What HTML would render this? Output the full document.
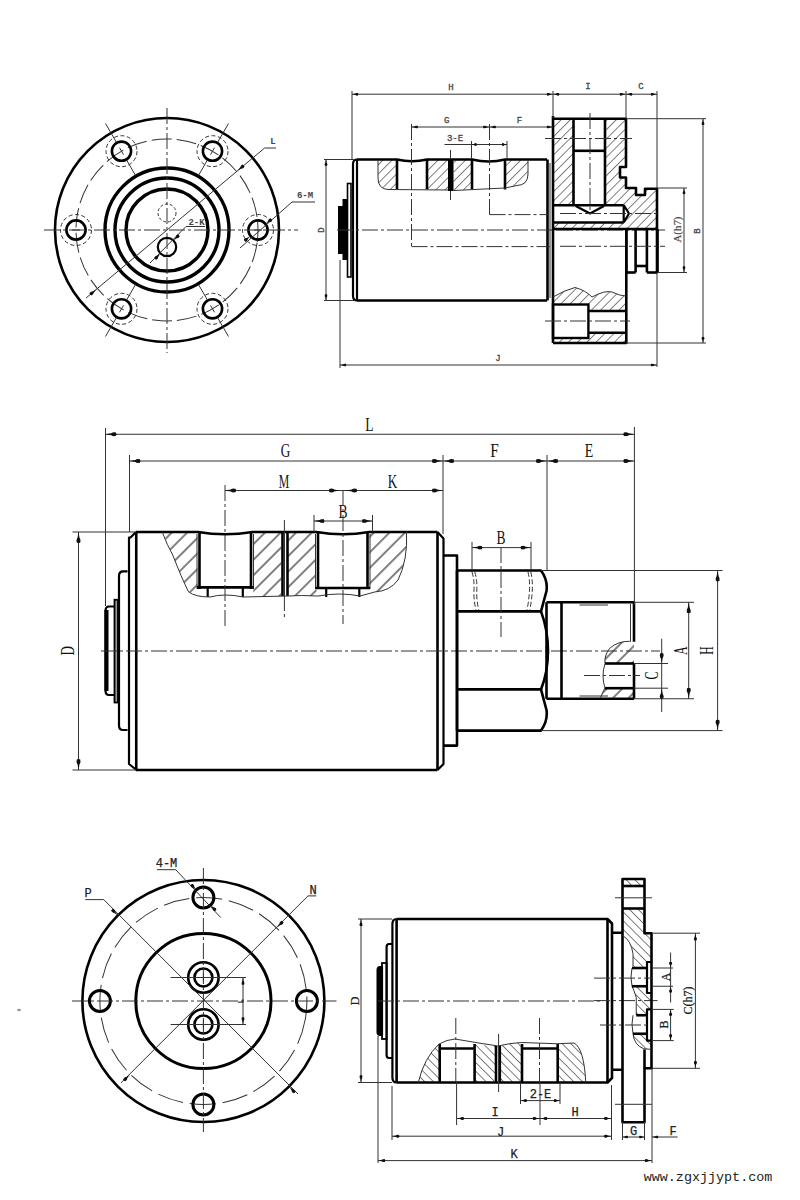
<!DOCTYPE html>
<html><head><meta charset="utf-8"><style>
html,body{margin:0;padding:0;background:#fff;width:800px;height:1200px;overflow:hidden}
svg{display:block}
.k{stroke:#000;stroke-width:2.6;fill:none;stroke-linejoin:round}
.k2{stroke:#000;stroke-width:2.2;fill:none;stroke-linejoin:round}
.k3{stroke:#000;stroke-width:3.4;fill:none}
.t{stroke:#333;stroke-width:1;fill:none}
.c{stroke:#333;stroke-width:1;fill:none;stroke-dasharray:16 3 3 3}
.h{stroke:#333;stroke-width:1;fill:none;stroke-dasharray:4 3}
.hf{fill:url(#hf);stroke:none}
.hb{fill:url(#hb);stroke:none}
.hm{fill:url(#hm);stroke:none}
text{font-family:"Liberation Mono",monospace;fill:#222}
.ts{font-size:9px;font-family:"Liberation Serif",serif}
.tx1{font-size:9px;font-weight:bold;font-family:"Liberation Mono",monospace;fill:#444}
.tx{font-size:9px;font-family:"Liberation Mono",monospace;fill:#444;stroke:#444;stroke-width:0.3}
.tm{font-size:18px;font-family:"Liberation Serif",serif;fill:#111}
.tb{font-size:12px;font-family:"Liberation Mono",monospace;fill:#222;stroke:#222;stroke-width:0.25}
.web{font-size:13.4px;font-family:"Liberation Mono",monospace;fill:#222}
</style></head><body>
<svg width="800" height="1200" viewBox="0 0 800 1200">
<defs>
<pattern id="hf" width="6.5" height="6" patternUnits="userSpaceOnUse" patternTransform="rotate(45)"><line x1="0" y1="0" x2="0" y2="6" stroke="#222" stroke-width="1.15"/></pattern>
<pattern id="hm" width="11" height="11" patternUnits="userSpaceOnUse" patternTransform="rotate(45)"><line x1="3" y1="0" x2="3" y2="11" stroke="#222" stroke-width="1.15"/></pattern>
<pattern id="hb" width="6.2" height="6" patternUnits="userSpaceOnUse" patternTransform="rotate(-45)"><line x1="0" y1="0" x2="0" y2="6" stroke="#222" stroke-width="1.15"/></pattern>
</defs>
<rect width="800" height="1200" fill="#fff"/>
<circle cx="167" cy="230" r="112" class="k" />
<circle cx="167" cy="230" r="91" class="t" stroke-dasharray="20 5" transform="rotate(8 167 230)"/>
<circle cx="167" cy="230" r="62" class="k3" />
<circle cx="167" cy="230" r="52" class="k3" />
<circle cx="167" cy="230" r="41" class="k3" />
<circle cx="258" cy="230" r="9.6" class="k" />
<circle cx="258" cy="230" r="15.5" class="t" stroke-dasharray="4 2.5"/>
<line x1="254" y1="230" x2="262" y2="230" class="t" />
<circle cx="212.5" cy="151.19" r="9.6" class="k" />
<circle cx="212.5" cy="151.19" r="15.5" class="t" stroke-dasharray="4 2.5"/>
<line x1="198.5" y1="175.44" x2="207.5" y2="159.85" class="t" />
<line x1="217.5" y1="142.53" x2="228.5" y2="123.48" class="t" />
<line x1="210.5" y1="154.66" x2="214.5" y2="147.73" class="t" />
<circle cx="121.5" cy="151.19" r="9.6" class="k" />
<circle cx="121.5" cy="151.19" r="15.5" class="t" stroke-dasharray="4 2.5"/>
<line x1="135.5" y1="175.44" x2="126.5" y2="159.85" class="t" />
<line x1="116.5" y1="142.53" x2="105.5" y2="123.48" class="t" />
<line x1="123.5" y1="154.66" x2="119.5" y2="147.73" class="t" />
<circle cx="76" cy="230" r="9.6" class="k" />
<circle cx="76" cy="230" r="15.5" class="t" stroke-dasharray="4 2.5"/>
<line x1="80" y1="230" x2="72" y2="230" class="t" />
<circle cx="121.5" cy="308.81" r="9.6" class="k" />
<circle cx="121.5" cy="308.81" r="15.5" class="t" stroke-dasharray="4 2.5"/>
<line x1="135.5" y1="284.56" x2="126.5" y2="300.15" class="t" />
<line x1="116.5" y1="317.47" x2="105.5" y2="336.52" class="t" />
<line x1="123.5" y1="305.34" x2="119.5" y2="312.27" class="t" />
<circle cx="212.5" cy="308.81" r="9.6" class="k" />
<circle cx="212.5" cy="308.81" r="15.5" class="t" stroke-dasharray="4 2.5"/>
<line x1="198.5" y1="284.56" x2="207.5" y2="300.15" class="t" />
<line x1="217.5" y1="317.47" x2="228.5" y2="336.52" class="t" />
<line x1="210.5" y1="305.34" x2="214.5" y2="312.27" class="t" />
<line x1="44" y1="230" x2="298" y2="230" class="c" />
<line x1="167" y1="108" x2="167" y2="353" class="c" />
<circle cx="167" cy="247" r="9.2" class="k2" />
<circle cx="167" cy="213" r="9" class="t" stroke-dasharray="3 2"/>
<line x1="86" y1="298.04" x2="264.6" y2="148.02" class="t" />
<line x1="264.6" y1="148.02" x2="276" y2="148.02" class="t" />
<polygon points="237.44,170.83 242.61,164.53 244.54,166.83" fill="#111"/>
<ellipse cx="242.35" cy="166.71" rx="2" ry="1.65" fill="#111" transform="rotate(139.97 242.35 166.71)"/>
<polygon points="96.56,289.17 91.39,295.47 89.46,293.17" fill="#111"/>
<ellipse cx="91.65" cy="293.29" rx="2" ry="1.65" fill="#111" transform="rotate(-40.03 91.65 293.29)"/>
<text x="273" y="143.5" class="tx1" text-anchor="middle" >L</text>
<line x1="240" y1="248" x2="292" y2="202" class="t" />
<line x1="292" y1="202" x2="315" y2="202" class="t" />
<polygon points="250.2,236.3 245.7,241.87 243.81,239.53" fill="#111"/>
<ellipse cx="245.84" cy="239.82" rx="1.75" ry="1.65" fill="#111" transform="rotate(-38.93 245.84 239.82)"/>
<polygon points="265.8,223.7 270.3,218.13 272.19,220.47" fill="#111"/>
<ellipse cx="270.16" cy="220.18" rx="1.75" ry="1.65" fill="#111" transform="rotate(141.07 270.16 220.18)"/>
<text x="305" y="198" class="tx1" text-anchor="middle" >6-M</text>
<line x1="150" y1="263" x2="186" y2="226.5" class="t" />
<line x1="186" y1="226.5" x2="205" y2="226.5" class="t" />
<polygon points="160.3,253.7 156.41,259.71 154.29,257.59" fill="#111"/>
<ellipse cx="156.34" cy="257.66" rx="1.75" ry="1.65" fill="#111" transform="rotate(-45 156.34 257.66)"/>
<polygon points="173.7,240.3 177.59,234.29 179.71,236.41" fill="#111"/>
<ellipse cx="177.66" cy="236.34" rx="1.75" ry="1.65" fill="#111" transform="rotate(135 177.66 236.34)"/>
<text x="196.5" y="224.5" class="tx1" text-anchor="middle" >2-K</text>
<path d="M378,160 L397,160 L397,189.5 L388,189.5 Q378,189 378,178 Z" class="hf" />
<path d="M427,160 L448.5,160 L448.5,190 L427,189.5 Z" class="hf" />
<path d="M453.5,160 L472,160 L472,189.5 L453.5,190.5 Z" class="hf" />
<path d="M505,160 L528,160 L528,174 Q528,185 517,185.5 L505,187.5 Z" class="hf" />
<path d="M553,118.7 L573.5,118.7 L573.5,205.2 L553,205.2 Z" class="hf" />
<path d="M605,118.7 L626,118.7 L626,167 L620,167 L620,177.5 L626,177.5 L626,188 L636,188 L636,195 L645,195 L645,188.7 L657,188.7 L657,229 L553,229 L553,222.5 L623.7,222.5 L629,213.5 L623.7,205.2 L605,205.2 Z" class="hf" />
<path d="M553,297 Q565,290 575,287.5 Q585,290 592,297 Q605,290 612,292 Q620,296 626,296 L626,311 L588.4,311 L588.4,304.5 L553,304.5 Z" class="hf" />
<path d="M588.4,332.7 L626,332.7 L626,343 L553,343 L553,338 L588.4,338 Z" class="hf" />
<path d="M357,159.5 L397,159.5 Q412,163 427,159.5 L472,159.5 Q489,163.5 505,159.5 L547,159.5" class="k" />
<line x1="357" y1="300.5" x2="547" y2="300.5" class="k" />
<path d="M357,159.5 Q353,159.5 353,164 L353,296 Q353,300.5 357,300.5" class="k2" />
<line x1="357" y1="160" x2="357" y2="300" class="k2" />
<line x1="547.5" y1="159.5" x2="547.5" y2="300.5" class="k" />
<line x1="550" y1="163" x2="550" y2="298" class="t" />
<rect x="347.5" y="183.5" width="3.5" height="93.5" fill="none" stroke="#000" stroke-width="1.6"/>
<rect x="342.5" y="199" width="5" height="61" fill="#000"/>
<rect x="338" y="206" width="5" height="48" fill="#000"/>
<line x1="397" y1="159.5" x2="397" y2="189.5" class="k" />
<line x1="427" y1="159.5" x2="427" y2="189.5" class="k" />
<line x1="472" y1="159.5" x2="472" y2="189.5" class="k" />
<line x1="505" y1="159.5" x2="505" y2="189.5" class="k" />
<path d="M378,160 L378,178 Q378,189 388,189.5 L448.5,190" class="t" />
<path d="M453.5,190.5 L505,188 L517,185.5 Q528,185 528,174 L528,160" class="t" />
<line x1="337" y1="230" x2="557" y2="230" class="c" />
<line x1="557" y1="230" x2="665" y2="230" class="c" />
<line x1="411.5" y1="124" x2="411.5" y2="246.6" class="c" />
<line x1="411.5" y1="246.6" x2="550" y2="246.6" class="c" />
<line x1="489.5" y1="124" x2="489.5" y2="214.6" class="c" />
<line x1="489.5" y1="214.6" x2="549" y2="214.6" class="c" />
<line x1="450.5" y1="150" x2="450.5" y2="200" class="t" />
<rect x="448" y="159" width="5.5" height="32" fill="#000"/>
<path d="M553,118.7 L626,118.7 L626,167 L620,167 L620,177.5 L626,177.5 L626,188 L636,188 L636,195 L645,195 L645,188.7 L657,188.7 L657,272.5" class="k" />
<line x1="553" y1="116" x2="553" y2="343" class="k" />
<path d="M573.5,118.7 L573.5,205.2 M605,118.7 L605,205.2" class="k" />
<line x1="573.5" y1="150.8" x2="605" y2="150.8" class="k" />
<path d="M575.7,206 L590,213.5 L604,206" class="k2" />
<line x1="553" y1="205.2" x2="623.7" y2="205.2" class="k" />
<line x1="553" y1="222.5" x2="623.7" y2="222.5" class="k" />
<path d="M623.7,205.2 L623.7,222.5 M623.7,205.2 L629,213.5 L623.7,222.5" class="k2" />
<line x1="545" y1="138.5" x2="632" y2="138.5" class="c" />
<line x1="560" y1="213.5" x2="657" y2="213.5" class="c" />
<line x1="590" y1="113" x2="590" y2="213" class="c" />
<line x1="553" y1="229" x2="657" y2="229" class="k" />
<line x1="626.3" y1="229" x2="626.3" y2="272.5" class="k" />
<line x1="635.6" y1="229" x2="635.6" y2="272.5" class="k" />
<line x1="646.9" y1="229" x2="646.9" y2="272.5" class="k" />
<line x1="657.5" y1="229" x2="657.5" y2="272.5" class="k" />
<line x1="626.3" y1="272.5" x2="635.6" y2="272.5" class="k" />
<line x1="646.9" y1="272.5" x2="657.5" y2="272.5" class="k" />
<line x1="635.6" y1="266" x2="646.9" y2="266" class="k" />
<line x1="560" y1="246.3" x2="665" y2="246.3" class="c" />
<path d="M553,343 L626.3,343 L626.3,229" class="k" />
<rect x="553" y="304.5" width="35.4" height="33.5" fill="none" stroke="#000" stroke-width="2.4"/>
<line x1="588.4" y1="311" x2="626.3" y2="311" class="k" />
<line x1="588.4" y1="332.7" x2="626.3" y2="332.7" class="k" />
<line x1="545" y1="321" x2="630" y2="321" class="c" />
<path d="M553,297 Q565,290 575,287.5 Q585,290 592,297 Q605,290 612,292 Q620,296 626,296" class="t" />
<line x1="352" y1="91" x2="352" y2="159" class="t" />
<line x1="553" y1="91" x2="553" y2="118" class="t" />
<line x1="352" y1="94.2" x2="553" y2="94.2" class="t" />
<polygon points="352,94.2 358,93 358,95.4" fill="#111"/>
<ellipse cx="356.8" cy="94.2" rx="1.5" ry="1.32" fill="#111" transform="rotate(180 356.8 94.2)"/>
<polygon points="553,94.2 547,95.4 547,93" fill="#111"/>
<ellipse cx="548.2" cy="94.2" rx="1.5" ry="1.32" fill="#111" transform="rotate(0 548.2 94.2)"/>
<text x="451" y="90" class="tx" text-anchor="middle" >H</text>
<line x1="411.5" y1="127" x2="553" y2="127" class="t" />
<polygon points="411.5,127 417.5,125.8 417.5,128.2" fill="#111"/>
<ellipse cx="416.3" cy="127" rx="1.5" ry="1.32" fill="#111" transform="rotate(180 416.3 127)"/>
<polygon points="489.5,127 483.5,128.2 483.5,125.8" fill="#111"/>
<ellipse cx="484.7" cy="127" rx="1.5" ry="1.32" fill="#111" transform="rotate(0 484.7 127)"/>
<polygon points="489.5,127 495.5,125.8 495.5,128.2" fill="#111"/>
<ellipse cx="494.3" cy="127" rx="1.5" ry="1.32" fill="#111" transform="rotate(180 494.3 127)"/>
<polygon points="553,127 547,128.2 547,125.8" fill="#111"/>
<ellipse cx="548.2" cy="127" rx="1.5" ry="1.32" fill="#111" transform="rotate(0 548.2 127)"/>
<text x="446.6" y="123" class="tx" text-anchor="middle" >G</text>
<text x="519.5" y="123" class="tx" text-anchor="middle" >F</text>
<line x1="444.5" y1="144.5" x2="507" y2="144.5" class="t" />
<line x1="471.5" y1="141" x2="471.5" y2="159" class="t" />
<line x1="507" y1="141" x2="507" y2="159" class="t" />
<polygon points="471.5,144.5 476.5,143.3 476.5,145.7" fill="#111"/>
<ellipse cx="475.5" cy="144.5" rx="1.25" ry="1.32" fill="#111" transform="rotate(180 475.5 144.5)"/>
<polygon points="507,144.5 502,145.7 502,143.3" fill="#111"/>
<ellipse cx="503" cy="144.5" rx="1.25" ry="1.32" fill="#111" transform="rotate(0 503 144.5)"/>
<text x="455" y="140.5" class="tx" text-anchor="middle" >3-E</text>
<line x1="553" y1="94.2" x2="657" y2="94.2" class="t" />
<polygon points="553,94.2 559,93 559,95.4" fill="#111"/>
<ellipse cx="557.8" cy="94.2" rx="1.5" ry="1.32" fill="#111" transform="rotate(180 557.8 94.2)"/>
<polygon points="626,94.2 620,95.4 620,93" fill="#111"/>
<ellipse cx="621.2" cy="94.2" rx="1.5" ry="1.32" fill="#111" transform="rotate(0 621.2 94.2)"/>
<polygon points="626,94.2 632,93 632,95.4" fill="#111"/>
<ellipse cx="630.8" cy="94.2" rx="1.5" ry="1.32" fill="#111" transform="rotate(180 630.8 94.2)"/>
<polygon points="657,94.2 651,95.4 651,93" fill="#111"/>
<ellipse cx="652.2" cy="94.2" rx="1.5" ry="1.32" fill="#111" transform="rotate(0 652.2 94.2)"/>
<line x1="626" y1="91" x2="626" y2="118" class="t" />
<line x1="657" y1="91" x2="657" y2="188" class="t" />
<text x="588" y="89" class="tx" text-anchor="middle" >I</text>
<text x="641" y="89" class="tx" text-anchor="middle" >C</text>
<line x1="626" y1="118.7" x2="706" y2="118.7" class="t" />
<line x1="626" y1="343" x2="706" y2="343" class="t" />
<line x1="703" y1="118.7" x2="703" y2="343" class="t" />
<polygon points="703,118.7 704.2,124.7 701.8,124.7" fill="#111"/>
<ellipse cx="703" cy="123.5" rx="1.5" ry="1.32" fill="#111" transform="rotate(-90 703 123.5)"/>
<polygon points="703,343 701.8,337 704.2,337" fill="#111"/>
<ellipse cx="703" cy="338.2" rx="1.5" ry="1.32" fill="#111" transform="rotate(90 703 338.2)"/>
<text x="697" y="231" class="tx" text-anchor="middle" transform="rotate(-90 697 231)" dy="2.5">B</text>
<line x1="657" y1="188" x2="687" y2="188" class="t" />
<line x1="657" y1="272.5" x2="687" y2="272.5" class="t" />
<line x1="684" y1="188" x2="684" y2="272.5" class="t" />
<polygon points="684,188 685.2,194 682.8,194" fill="#111"/>
<ellipse cx="684" cy="192.8" rx="1.5" ry="1.32" fill="#111" transform="rotate(-90 684 192.8)"/>
<polygon points="684,272.5 682.8,266.5 685.2,266.5" fill="#111"/>
<ellipse cx="684" cy="267.7" rx="1.5" ry="1.32" fill="#111" transform="rotate(90 684 267.7)"/>
<text x="678" y="229.5" class="tx" text-anchor="middle" transform="rotate(-90 678 229.5)" dy="3" style="font-family:'Liberation Serif',serif;font-size:10px;stroke-width:0.15" textLength="26" lengthAdjust="spacingAndGlyphs">A(h7)</text>
<line x1="324" y1="159.5" x2="355" y2="159.5" class="t" />
<line x1="324" y1="300.5" x2="355" y2="300.5" class="t" />
<line x1="326" y1="159.5" x2="326" y2="300.5" class="t" />
<polygon points="326,159.5 327.2,165.5 324.8,165.5" fill="#111"/>
<ellipse cx="326" cy="164.3" rx="1.5" ry="1.32" fill="#111" transform="rotate(-90 326 164.3)"/>
<polygon points="326,300.5 324.8,294.5 327.2,294.5" fill="#111"/>
<ellipse cx="326" cy="295.7" rx="1.5" ry="1.32" fill="#111" transform="rotate(90 326 295.7)"/>
<text x="321" y="230" class="tx" text-anchor="middle" transform="rotate(-90 321 230)" dy="2.5">D</text>
<line x1="340" y1="260" x2="340" y2="368" class="t" />
<line x1="657" y1="272.5" x2="657" y2="367" class="t" />
<line x1="340" y1="365" x2="657" y2="365" class="t" />
<polygon points="340,365 346,363.8 346,366.2" fill="#111"/>
<ellipse cx="344.8" cy="365" rx="1.5" ry="1.32" fill="#111" transform="rotate(180 344.8 365)"/>
<polygon points="657,365 651,366.2 651,363.8" fill="#111"/>
<ellipse cx="652.2" cy="365" rx="1.5" ry="1.32" fill="#111" transform="rotate(0 652.2 365)"/>
<text x="498" y="361" class="tx" text-anchor="middle" >J</text>
<path d="M162.25,532 L197.5,532 L197.5,589 L200.75,597 L188.5,591.75 Q181.5,577.75 172.75,555 Z" class="hm" />
<path d="M253.25,532 L281.25,532 L281.25,596 L253.25,597 Z" class="hm" />
<path d="M288.25,532 L316,532 L316,588 L318,596 L288.25,596 Z" class="hm" />
<path d="M369.5,532 L406.5,532 Q408,560 398,580 Q390,591 374.7,592 L369.5,590 Z" class="hm" />
<path d="M136,532 L198,532 Q225,536.5 252.5,532 L316.5,532 Q343,536.5 369,532 L437.5,532" class="k" />
<line x1="136" y1="770" x2="437.5" y2="770" class="k" />
<line x1="136.25" y1="532" x2="136.25" y2="770" class="k" />
<path d="M136,532 L130.5,537.5 L129,537.5 L129,764 L136.5,770" class="k2" />
<line x1="437.5" y1="532" x2="437.5" y2="770" class="k" />
<path d="M437.5,532 L443.5,538.5 L443.5,764 L437.5,770" class="k2" />
<path d="M127.5,571.3 L123,571.3 Q119,571.3 119,576 L119,725.5 Q119,730 123,730 L127.5,730" class="k2" />
<rect x="114.5" y="599.75" width="3.5" height="102.75" fill="#999" stroke="#000" stroke-width="1.8"/>
<path d="M114,606.5 L109,606.5 Q105.5,606.5 105.5,611 L105.5,690.5 Q105.5,695 109,695 L114,695" class="k2" />
<rect x="104.5" y="610" width="4" height="81" fill="#000"/>
<line x1="199.5" y1="532" x2="199.5" y2="589" class="k" />
<line x1="197" y1="534" x2="197" y2="589" class="t" />
<line x1="251" y1="532" x2="251" y2="589" class="k" />
<line x1="253.5" y1="534" x2="253.5" y2="589" class="t" />
<line x1="197" y1="587.4" x2="253.5" y2="587.4" class="k" />
<line x1="207.7" y1="587.4" x2="207.7" y2="597" class="k2" />
<line x1="242.8" y1="587.4" x2="242.8" y2="597" class="k2" />
<line x1="318" y1="532" x2="318" y2="589" class="k" />
<line x1="315.5" y1="534" x2="315.5" y2="589" class="t" />
<line x1="367.5" y1="532" x2="367.5" y2="589" class="k" />
<line x1="370" y1="534" x2="370" y2="589" class="t" />
<line x1="315.5" y1="588" x2="370" y2="588" class="k" />
<line x1="326.2" y1="588" x2="326.2" y2="597" class="k2" />
<line x1="359.3" y1="588" x2="359.3" y2="597" class="k2" />
<line x1="282.5" y1="532" x2="282.5" y2="596" class="k" />
<line x1="287.5" y1="532" x2="287.5" y2="596" class="k" />
<line x1="284.5" y1="534" x2="284.5" y2="596" class="t" stroke="#888"/>
<path d="M162.25,532 Q167,545 172.75,555 Q181.5,577.75 188.5,591.75 Q195,597 210,597 Q225,593 243,597 L288,596 Q300,595 318,596 Q340,592 360,596 L374.7,592 Q390,591 398,580 Q408,560 406.5,532" class="t" />
<line x1="101" y1="651" x2="660" y2="651" class="c" />
<line x1="225" y1="485" x2="225" y2="628" class="c" />
<line x1="284.4" y1="520" x2="284.4" y2="620" class="c" />
<line x1="343" y1="490" x2="343" y2="624" class="c" />
<path d="M443.5,555.5 L457,555.5 L457,745.6 L443.5,745.6" class="k" />
<path d="M457,570.5 L541,570.5 Q548,580 546.5,591 L541,611.4 L457,611.4" class="k" />
<path d="M457,730.6 L541,730.6 Q548,721 546.5,710 L541,689.4 L457,689.4" class="k" />
<path d="M541,611.4 Q548,630 548,651 Q548,672 541,689.4" class="k" />
<line x1="457" y1="570.5" x2="457" y2="730.6" class="k" />
<path d="M472,572 Q474.5,580 474,590 Q473.5,600 476,610" class="t" stroke-dasharray="5 2.5"/>
<path d="M528,572 Q530,580 529.5,590 Q529,600 527,610" class="t" stroke-dasharray="5 2.5"/>
<path d="M474.8,572 Q477.3,580 476.8,590 Q476.3,600 478.8,610" class="t" stroke-dasharray="5 2.5"/>
<path d="M530.8,572 Q532.8,580 532.3,590 Q531.8,600 529.8,610" class="t" stroke-dasharray="5 2.5"/>
<line x1="501" y1="547" x2="501" y2="637" class="c" />
<line x1="546.5" y1="602.3" x2="634" y2="602.3" class="k" />
<line x1="546.5" y1="698.75" x2="634" y2="698.75" class="k" />
<line x1="546.5" y1="602.3" x2="546.5" y2="698.75" class="k" />
<line x1="561.5" y1="602.3" x2="561.5" y2="698.75" class="k" />
<line x1="634" y1="602.3" x2="634" y2="641.75" class="k" />
<line x1="630.5" y1="604" x2="630.5" y2="641.75" class="t" />
<line x1="579.5" y1="605" x2="608" y2="605" class="t" stroke="#888" stroke-width="2"/>
<line x1="579.5" y1="696" x2="608" y2="696" class="t" stroke="#888" stroke-width="2"/>
<path d="M629.75,641.3 Q618,641 609.5,648.5 Q604,656 605,663.5" class="t" />
<path d="M605,688 Q602,693 600.5,698" class="t" />
<path d="M629.75,641.3 L634,641.3 L634,663.5 L605,663.5 Q604,656 609.5,648.5 Q618,641 629.75,641.3 Z" class="hm" />
<path d="M605,688.2 L634,688.2 L634,698 L600.5,698 Z" class="hm" />
<line x1="605" y1="663.5" x2="634" y2="663.5" class="k" />
<line x1="605" y1="688.2" x2="634" y2="688.2" class="k" />
<line x1="634" y1="663.5" x2="634" y2="698.75" class="k" />
<path d="M605,663.5 Q601,676 605,688.2" class="t" />
<line x1="584" y1="675.5" x2="640" y2="675.5" class="c" />
<line x1="105.5" y1="428" x2="105.5" y2="606" class="t" />
<line x1="634.4" y1="427" x2="634.4" y2="605" class="t" />
<line x1="105.5" y1="434.25" x2="634.4" y2="434.25" class="t" />
<polygon points="105.5,434.25 116,432.45 116,436.05" fill="#111"/>
<ellipse cx="113.9" cy="434.25" rx="2.62" ry="1.98" fill="#111" transform="rotate(180 113.9 434.25)"/>
<polygon points="634.4,434.25 623.9,436.05 623.9,432.45" fill="#111"/>
<ellipse cx="626" cy="434.25" rx="2.62" ry="1.98" fill="#111" transform="rotate(0 626 434.25)"/>
<text x="369.3" y="430.75" class="tm" text-anchor="middle" textLength="8.25" lengthAdjust="spacingAndGlyphs">L</text>
<line x1="129.5" y1="455" x2="129.5" y2="532" class="t" />
<line x1="443" y1="455" x2="443" y2="534" class="t" />
<line x1="547" y1="455" x2="547" y2="571" class="t" />
<line x1="129.5" y1="461" x2="634.4" y2="461" class="t" />
<polygon points="129.5,461 140,459.2 140,462.8" fill="#111"/>
<ellipse cx="137.9" cy="461" rx="2.62" ry="1.98" fill="#111" transform="rotate(180 137.9 461)"/>
<polygon points="443,461 432.5,462.8 432.5,459.2" fill="#111"/>
<ellipse cx="434.6" cy="461" rx="2.62" ry="1.98" fill="#111" transform="rotate(0 434.6 461)"/>
<polygon points="443,461 453.5,459.2 453.5,462.8" fill="#111"/>
<ellipse cx="451.4" cy="461" rx="2.62" ry="1.98" fill="#111" transform="rotate(180 451.4 461)"/>
<polygon points="547,461 536.5,462.8 536.5,459.2" fill="#111"/>
<ellipse cx="538.6" cy="461" rx="2.62" ry="1.98" fill="#111" transform="rotate(0 538.6 461)"/>
<polygon points="547,461 557.5,459.2 557.5,462.8" fill="#111"/>
<ellipse cx="555.4" cy="461" rx="2.62" ry="1.98" fill="#111" transform="rotate(180 555.4 461)"/>
<polygon points="634.4,461 623.9,462.8 623.9,459.2" fill="#111"/>
<ellipse cx="626" cy="461" rx="2.62" ry="1.98" fill="#111" transform="rotate(0 626 461)"/>
<text x="285.5" y="457" class="tm" text-anchor="middle" textLength="9.5" lengthAdjust="spacingAndGlyphs">G</text>
<text x="494.5" y="457" class="tm" text-anchor="middle" textLength="8.5" lengthAdjust="spacingAndGlyphs">F</text>
<text x="589" y="457" class="tm" text-anchor="middle" textLength="8.5" lengthAdjust="spacingAndGlyphs">E</text>
<line x1="225" y1="490.5" x2="443" y2="490.5" class="t" />
<polygon points="225,490.5 235.5,488.7 235.5,492.3" fill="#111"/>
<ellipse cx="233.4" cy="490.5" rx="2.62" ry="1.98" fill="#111" transform="rotate(180 233.4 490.5)"/>
<polygon points="340,490.5 329.5,492.3 329.5,488.7" fill="#111"/>
<ellipse cx="331.6" cy="490.5" rx="2.62" ry="1.98" fill="#111" transform="rotate(0 331.6 490.5)"/>
<polygon points="346,490.5 356.5,488.7 356.5,492.3" fill="#111"/>
<ellipse cx="354.4" cy="490.5" rx="2.62" ry="1.98" fill="#111" transform="rotate(180 354.4 490.5)"/>
<polygon points="443,490.5 432.5,492.3 432.5,488.7" fill="#111"/>
<ellipse cx="434.6" cy="490.5" rx="2.62" ry="1.98" fill="#111" transform="rotate(0 434.6 490.5)"/>
<text x="284" y="487.5" class="tm" text-anchor="middle" textLength="10.5" lengthAdjust="spacingAndGlyphs" style="font-size:19.5px">M</text>
<text x="392.5" y="487.5" class="tm" text-anchor="middle" textLength="9.5" lengthAdjust="spacingAndGlyphs" style="font-size:19.5px">K</text>
<line x1="314" y1="521" x2="372.5" y2="521" class="t" />
<line x1="314" y1="515" x2="314" y2="532" class="t" />
<line x1="372.5" y1="515" x2="372.5" y2="532" class="t" />
<polygon points="314,521 324,519.3 324,522.7" fill="#111"/>
<ellipse cx="322" cy="521" rx="2.5" ry="1.87" fill="#111" transform="rotate(180 322 521)"/>
<polygon points="372.5,521 362.5,522.7 362.5,519.3" fill="#111"/>
<ellipse cx="364.5" cy="521" rx="2.5" ry="1.87" fill="#111" transform="rotate(0 364.5 521)"/>
<text x="343" y="518" class="tm" text-anchor="middle" textLength="9" lengthAdjust="spacingAndGlyphs">B</text>
<line x1="472" y1="547.6" x2="531" y2="547.6" class="t" />
<line x1="472" y1="542" x2="472" y2="570" class="t" />
<line x1="531" y1="542" x2="531" y2="570" class="t" />
<polygon points="472,547.6 482,545.9 482,549.3" fill="#111"/>
<ellipse cx="480" cy="547.6" rx="2.5" ry="1.87" fill="#111" transform="rotate(180 480 547.6)"/>
<polygon points="531,547.6 521,549.3 521,545.9" fill="#111"/>
<ellipse cx="523" cy="547.6" rx="2.5" ry="1.87" fill="#111" transform="rotate(0 523 547.6)"/>
<text x="501" y="544" class="tm" text-anchor="middle" textLength="9" lengthAdjust="spacingAndGlyphs">B</text>
<line x1="72.5" y1="532" x2="136" y2="532" class="t" />
<line x1="72.5" y1="770" x2="136" y2="770" class="t" />
<line x1="78.5" y1="532" x2="78.5" y2="770" class="t" />
<polygon points="78.5,532 80.3,542.5 76.7,542.5" fill="#111"/>
<ellipse cx="78.5" cy="540.4" rx="2.62" ry="1.98" fill="#111" transform="rotate(-90 78.5 540.4)"/>
<polygon points="78.5,770 76.7,759.5 80.3,759.5" fill="#111"/>
<ellipse cx="78.5" cy="761.6" rx="2.62" ry="1.98" fill="#111" transform="rotate(90 78.5 761.6)"/>
<text x="69.4" y="650.75" class="tm" text-anchor="middle" textLength="9.5" lengthAdjust="spacingAndGlyphs" transform="rotate(-90 69.4 650.75)" dy="5">D</text>
<line x1="541" y1="570.5" x2="722.5" y2="570.5" class="t" />
<line x1="541" y1="730.6" x2="722.5" y2="730.6" class="t" />
<line x1="717.6" y1="570.5" x2="717.6" y2="730.6" class="t" />
<polygon points="717.6,570.5 719.4,581 715.8,581" fill="#111"/>
<ellipse cx="717.6" cy="578.9" rx="2.62" ry="1.98" fill="#111" transform="rotate(-90 717.6 578.9)"/>
<polygon points="717.6,730.6 715.8,720.1 719.4,720.1" fill="#111"/>
<ellipse cx="717.6" cy="722.2" rx="2.62" ry="1.98" fill="#111" transform="rotate(90 717.6 722.2)"/>
<text x="707.5" y="650.5" class="tm" text-anchor="middle" textLength="8.4" lengthAdjust="spacingAndGlyphs" transform="rotate(-90 707.5 650.5)" dy="5">H</text>
<line x1="634" y1="602.3" x2="694" y2="602.3" class="t" />
<line x1="634" y1="698.75" x2="694" y2="698.75" class="t" />
<line x1="688.7" y1="602.3" x2="688.7" y2="698.75" class="t" />
<polygon points="688.7,602.3 690.5,612.8 686.9,612.8" fill="#111"/>
<ellipse cx="688.7" cy="610.7" rx="2.62" ry="1.98" fill="#111" transform="rotate(-90 688.7 610.7)"/>
<polygon points="688.7,698.75 686.9,688.25 690.5,688.25" fill="#111"/>
<ellipse cx="688.7" cy="690.35" rx="2.62" ry="1.98" fill="#111" transform="rotate(90 688.7 690.35)"/>
<text x="681.5" y="650.5" class="tm" text-anchor="middle" textLength="8.4" lengthAdjust="spacingAndGlyphs" transform="rotate(-90 681.5 650.5)" dy="5">A</text>
<line x1="634" y1="663.5" x2="668" y2="663.5" class="t" />
<line x1="634" y1="688.2" x2="668" y2="688.2" class="t" />
<line x1="661.7" y1="638.7" x2="661.7" y2="712" class="t" />
<polygon points="661.7,663.5 660,653.5 663.4,653.5" fill="#111"/>
<ellipse cx="661.7" cy="655.5" rx="2.5" ry="1.87" fill="#111" transform="rotate(90 661.7 655.5)"/>
<polygon points="661.7,688.2 663.4,698.2 660,698.2" fill="#111"/>
<ellipse cx="661.7" cy="696.2" rx="2.5" ry="1.87" fill="#111" transform="rotate(-90 661.7 696.2)"/>
<text x="653" y="675.5" class="tm" text-anchor="middle" textLength="8" lengthAdjust="spacingAndGlyphs" transform="rotate(-90 653 675.5)" dy="5">C</text>
<circle cx="203.4" cy="1001" r="121" class="k" />
<circle cx="203.4" cy="1001" r="103.5" class="t" style="stroke-dasharray:26 7" transform="rotate(10 203.4 1001)"/>
<circle cx="203.4" cy="1001" r="67.6" class="k3" style="stroke-width:3"/>
<circle cx="203.4" cy="897.5" r="10.5" class="k3" style="stroke-width:3"/>
<circle cx="203.4" cy="1104.5" r="10.5" class="k3" style="stroke-width:3"/>
<circle cx="99.9" cy="1001" r="10.5" class="k3" style="stroke-width:3"/>
<circle cx="306.9" cy="1001" r="10.5" class="k3" style="stroke-width:3"/>
<circle cx="203.4" cy="977.5" r="15.2" class="k" />
<circle cx="203.4" cy="977.5" r="9" class="k" />
<line x1="170.6" y1="977.5" x2="246" y2="977.5" class="t" />
<line x1="203.4" y1="973.5" x2="203.4" y2="981.5" class="t" />
<line x1="199.4" y1="977.5" x2="207.4" y2="977.5" class="t" />
<circle cx="203.4" cy="1024.5" r="15.2" class="k" />
<circle cx="203.4" cy="1024.5" r="9" class="k" />
<line x1="170.6" y1="1024.5" x2="246" y2="1024.5" class="t" />
<line x1="203.4" y1="1020.5" x2="203.4" y2="1028.5" class="t" />
<line x1="199.4" y1="1024.5" x2="207.4" y2="1024.5" class="t" />
<line x1="72" y1="1001" x2="336.5" y2="1001" class="c" />
<line x1="203.4" y1="868" x2="203.4" y2="1132" class="c" />
<line x1="85.3" y1="899.6" x2="103.75" y2="899.6" class="t" />
<line x1="103.75" y1="899.6" x2="298" y2="1094" class="t" />
<polygon points="117.84,915.44 111.12,910.84 113.24,908.72" fill="#111"/>
<ellipse cx="113.31" cy="910.91" rx="2" ry="1.65" fill="#111" transform="rotate(45 113.31 910.91)"/>
<polygon points="288.96,1086.56 295.68,1091.16 293.56,1093.28" fill="#111"/>
<ellipse cx="293.49" cy="1091.09" rx="2" ry="1.65" fill="#111" transform="rotate(-135 293.49 1091.09)"/>
<text x="88" y="897" class="tb" text-anchor="middle" >P</text>
<line x1="308" y1="895.9" x2="316.25" y2="895.9" class="t" />
<line x1="308" y1="895.9" x2="121" y2="1082.8" class="t" />
<polygon points="276.94,927.46 281.54,920.74 283.66,922.86" fill="#111"/>
<ellipse cx="281.46" cy="922.94" rx="2" ry="1.65" fill="#111" transform="rotate(135 281.46 922.94)"/>
<polygon points="129.86,1074.54 125.26,1081.26 123.14,1079.14" fill="#111"/>
<ellipse cx="125.34" cy="1079.06" rx="2" ry="1.65" fill="#111" transform="rotate(-45 125.34 1079.06)"/>
<text x="313" y="893.5" class="tb" text-anchor="middle" >N</text>
<line x1="157" y1="869.7" x2="175.7" y2="869.7" class="t" />
<line x1="175.7" y1="869.7" x2="220.8" y2="917.6" class="t" />
<polygon points="196.2,889.86 190.31,885.79 192.5,883.73" fill="#111"/>
<ellipse cx="192.36" cy="885.78" rx="1.75" ry="1.65" fill="#111" transform="rotate(46.72 192.36 885.78)"/>
<polygon points="210.6,905.14 216.49,909.21 214.3,911.27" fill="#111"/>
<ellipse cx="214.44" cy="909.22" rx="1.75" ry="1.65" fill="#111" transform="rotate(-133.28 214.44 909.22)"/>
<text x="166.5" y="867" class="tb" text-anchor="middle" >4-M</text>
<line x1="243" y1="977.5" x2="243" y2="1024.5" class="t" />
<polygon points="243,977.5 244.3,984.5 241.7,984.5" fill="#111"/>
<ellipse cx="243" cy="983.1" rx="1.75" ry="1.43" fill="#111" transform="rotate(-90 243 983.1)"/>
<polygon points="243,1024.5 241.7,1017.5 244.3,1017.5" fill="#111"/>
<ellipse cx="243" cy="1018.9" rx="1.75" ry="1.43" fill="#111" transform="rotate(90 243 1018.9)"/>
<text x="240" y="1001" class="tb" text-anchor="middle" transform="rotate(-90 240 1001)" dy="3" style="font-size:8px">L</text>
<path d="M418.3,1082.5 Q424,1058 439,1044 L439,1082.5 Z" class="hb" />
<path d="M474.6,1045 Q487,1045 496,1046 L496,1082.5 L474.6,1082.5 Z" class="hb" />
<path d="M499.8,1046 Q510,1043 522,1042.5 L522,1082.5 L499.8,1082.5 Z" class="hb" />
<path d="M557.7,1043.5 L574,1043 Q584,1048 585.8,1082.5 L557.7,1082.5 Z" class="hb" />
<path d="M622.5,879 L644.5,879 L644.5,886 L622.5,886 Z" class="hb" />
<path d="M622.5,908.5 L644.5,908.5 L644.5,933.2 L651.5,933.2 L651.5,962 L647,962 L647,968 L632,968 L633,966 L633,953.75 Q631,940 622.5,935.6 Z" class="hb" />
<path d="M632,986.25 L647,986.25 L647,993 L651.5,993 L651.5,1009.4 L647,1009.4 L647,1015.25 L636.25,1015.25 L636.25,997.5 Q634,990 632,986.25 Z" class="hb" />
<path d="M633,1033.75 L647,1033.75 L647,1040.6 L651.5,1040.6 L651.5,1049.4 L643.75,1048.75 Q634,1045 633,1033.75 Z" class="hb" />
<path d="M396.6,919 L607.5,919 L612,923.5 L612,1078 L607.5,1082.5 L396.6,1082.5" class="k" />
<line x1="396.6" y1="919" x2="396.6" y2="1082.5" class="k" />
<line x1="607.5" y1="919" x2="607.5" y2="1082.5" class="k" />
<path d="M396.6,919 Q392.4,919 392.4,924 L392.4,1077.5 Q392.4,1082.5 396.6,1082.5" class="k2" />
<path d="M392.4,944 L389,944 Q386.6,944 386.6,947 L386.6,1055 Q386.6,1058 389,1058 L392.4,1058" class="k2" />
<rect x="382" y="963" width="4.6" height="76" fill="none" stroke="#000" stroke-width="1.8"/>
<path d="M382,967 L380,967 Q377.6,967 377.6,970 L377.6,1032 Q377.6,1035 380,1035 L382,1035 Z" class="k2" style="fill:#000"/>
<line x1="439.7" y1="1044" x2="439.7" y2="1082.5" class="k" />
<line x1="474.6" y1="1044" x2="474.6" y2="1082.5" class="k" />
<line x1="522" y1="1044" x2="522" y2="1082.5" class="k" />
<line x1="557.7" y1="1044" x2="557.7" y2="1082.5" class="k" />
<line x1="439.7" y1="1048.5" x2="474.6" y2="1048.5" class="k" />
<line x1="522" y1="1048.5" x2="557.7" y2="1048.5" class="k" />
<line x1="496" y1="1046" x2="496" y2="1082.5" class="k" />
<line x1="499.8" y1="1046" x2="499.8" y2="1082.5" class="k" />
<path d="M418.3,1082.5 Q424,1058 439,1044 Q447,1039.5 455,1039 Q478,1043 498,1046 Q510,1043 521.6,1042.5 L557,1043.75 L574,1043 Q584,1048 585.8,1082.5" class="t" />
<line x1="455.8" y1="1018" x2="455.8" y2="1082" class="c" />
<line x1="539.5" y1="1018" x2="539.5" y2="1082" class="c" />
<line x1="456.6" y1="1082" x2="456.6" y2="1125" class="t" />
<line x1="540" y1="1082" x2="540" y2="1125" class="t" />
<line x1="498.6" y1="1034" x2="498.6" y2="1092" class="t" />
<line x1="378" y1="1001" x2="600" y2="1001" class="c" />
<line x1="594" y1="1000.6" x2="657.5" y2="1000.6" class="c" />
<path d="M612,932.8 L622.5,932.8 M612,1069.8 L622.5,1069.8" class="k" />
<path d="M622.5,1122.2 L622.5,879 L644.5,879 L644.5,933.2 L651.5,933.2 L651.5,1068.3 L644.5,1068.3 L644.5,1122.2 L622.5,1122.2 Z" class="k" />
<line x1="622.5" y1="886" x2="644.5" y2="886" class="k" />
<line x1="622.5" y1="908.5" x2="644.5" y2="908.5" class="k" />
<line x1="615" y1="897.8" x2="652" y2="897.8" class="t" />
<line x1="615" y1="1104.3" x2="652" y2="1104.3" class="t" />
<line x1="644.5" y1="1049.4" x2="644.5" y2="1068.3" class="k" />
<path d="M622.5,935.6 Q631,940 633,953.75 L633,966" class="t" />
<path d="M632,968 Q630,977 632,986.25 Q634,990 636.25,997.5 L636.25,1015.25" class="t" />
<path d="M633,1033.75 Q634,1045 643.75,1048.75 L651.5,1049.4" class="t" />
<path d="M633,1015.25 Q631,1024 633,1033.75" class="t" />
<line x1="632" y1="968" x2="647" y2="968" class="k" />
<line x1="632" y1="986.25" x2="647" y2="986.25" class="k" />
<line x1="636.25" y1="1015.25" x2="647" y2="1015.25" class="k" />
<line x1="633" y1="1033.75" x2="647" y2="1033.75" class="k" />
<path d="M651.5,962 L647,962 L647,993 L651.5,993" class="k2" />
<path d="M651.5,1009.4 L647,1009.4 L647,1040.6 L651.5,1040.6" class="k2" />
<line x1="594" y1="978.1" x2="652" y2="978.1" class="c" />
<line x1="600" y1="1025" x2="651" y2="1025" class="c" />
<line x1="358" y1="919" x2="392" y2="919" class="t" />
<line x1="358" y1="1082.5" x2="392" y2="1082.5" class="t" />
<line x1="361" y1="919" x2="361" y2="1082.5" class="t" />
<polygon points="361,919 362.3,926 359.7,926" fill="#111"/>
<ellipse cx="361" cy="924.6" rx="1.75" ry="1.43" fill="#111" transform="rotate(-90 361 924.6)"/>
<polygon points="361,1082.5 359.7,1075.5 362.3,1075.5" fill="#111"/>
<ellipse cx="361" cy="1076.9" rx="1.75" ry="1.43" fill="#111" transform="rotate(90 361 1076.9)"/>
<text x="354.5" y="1001" class="tb" text-anchor="middle" transform="rotate(-90 354.5 1001)" dy="4" style="font-family:'Liberation Serif',serif;font-size:12px;stroke-width:0.2">D</text>
<line x1="652" y1="933.2" x2="700" y2="933.2" class="t" />
<line x1="652" y1="1068.3" x2="700" y2="1068.3" class="t" />
<line x1="695.4" y1="933.2" x2="695.4" y2="1068.3" class="t" />
<polygon points="695.4,933.2 696.7,940.2 694.1,940.2" fill="#111"/>
<ellipse cx="695.4" cy="938.8" rx="1.75" ry="1.43" fill="#111" transform="rotate(-90 695.4 938.8)"/>
<polygon points="695.4,1068.3 694.1,1061.3 696.7,1061.3" fill="#111"/>
<ellipse cx="695.4" cy="1062.7" rx="1.75" ry="1.43" fill="#111" transform="rotate(90 695.4 1062.7)"/>
<text x="688" y="1000.5" class="tb" text-anchor="middle" transform="rotate(-90 688 1000.5)" dy="4" style="font-family:'Liberation Serif',serif;font-size:12px">C(h7)</text>
<line x1="652" y1="968" x2="673" y2="968" class="t" />
<line x1="652" y1="986.25" x2="673" y2="986.25" class="t" />
<line x1="670.6" y1="952.5" x2="670.6" y2="1002.5" class="t" />
<polygon points="670.6,968 669.3,962 671.9,962" fill="#111"/>
<ellipse cx="670.6" cy="963.2" rx="1.5" ry="1.43" fill="#111" transform="rotate(90 670.6 963.2)"/>
<polygon points="670.6,986.25 671.9,992.25 669.3,992.25" fill="#111"/>
<ellipse cx="670.6" cy="991.05" rx="1.5" ry="1.43" fill="#111" transform="rotate(-90 670.6 991.05)"/>
<text x="665.6" y="977" class="tb" text-anchor="middle" transform="rotate(-90 665.6 977)" dy="4" style="font-family:'Liberation Serif',serif;font-size:12px">A</text>
<line x1="651.5" y1="1009.4" x2="673.75" y2="1009.4" class="t" />
<line x1="651.5" y1="1040.6" x2="673.75" y2="1040.6" class="t" />
<line x1="670.6" y1="1009.4" x2="670.6" y2="1040.6" class="t" />
<polygon points="670.6,1009.4 671.9,1015.4 669.3,1015.4" fill="#111"/>
<ellipse cx="670.6" cy="1014.2" rx="1.5" ry="1.43" fill="#111" transform="rotate(-90 670.6 1014.2)"/>
<polygon points="670.6,1040.6 669.3,1034.6 671.9,1034.6" fill="#111"/>
<ellipse cx="670.6" cy="1035.8" rx="1.5" ry="1.43" fill="#111" transform="rotate(90 670.6 1035.8)"/>
<text x="663.75" y="1024.4" class="tb" text-anchor="middle" transform="rotate(-90 663.75 1024.4)" dy="4" style="font-family:'Liberation Serif',serif;font-size:12px">B</text>
<line x1="520.5" y1="1082.5" x2="520.5" y2="1104" class="t" />
<line x1="560" y1="1082.5" x2="560" y2="1104" class="t" />
<line x1="520.5" y1="1100.6" x2="560" y2="1100.6" class="t" />
<polygon points="520.5,1100.6 526.5,1099.3 526.5,1101.9" fill="#111"/>
<ellipse cx="525.3" cy="1100.6" rx="1.5" ry="1.43" fill="#111" transform="rotate(180 525.3 1100.6)"/>
<polygon points="560,1100.6 554,1101.9 554,1099.3" fill="#111"/>
<ellipse cx="555.2" cy="1100.6" rx="1.5" ry="1.43" fill="#111" transform="rotate(0 555.2 1100.6)"/>
<text x="540.5" y="1098" class="tb" text-anchor="middle" >2-E</text>
<line x1="456.6" y1="1118.5" x2="611.5" y2="1118.5" class="t" />
<polygon points="456.6,1118.5 463.6,1117.2 463.6,1119.8" fill="#111"/>
<ellipse cx="462.2" cy="1118.5" rx="1.75" ry="1.43" fill="#111" transform="rotate(180 462.2 1118.5)"/>
<polygon points="540,1118.5 533,1119.8 533,1117.2" fill="#111"/>
<ellipse cx="534.4" cy="1118.5" rx="1.75" ry="1.43" fill="#111" transform="rotate(0 534.4 1118.5)"/>
<polygon points="540,1118.5 547,1117.2 547,1119.8" fill="#111"/>
<ellipse cx="545.6" cy="1118.5" rx="1.75" ry="1.43" fill="#111" transform="rotate(180 545.6 1118.5)"/>
<polygon points="611.5,1118.5 604.5,1119.8 604.5,1117.2" fill="#111"/>
<ellipse cx="605.9" cy="1118.5" rx="1.75" ry="1.43" fill="#111" transform="rotate(0 605.9 1118.5)"/>
<text x="495" y="1116" class="tb" text-anchor="middle" >I</text>
<text x="575" y="1116" class="tb" text-anchor="middle" >H</text>
<line x1="611.5" y1="1085" x2="611.5" y2="1140" class="t" />
<line x1="392" y1="1086" x2="392" y2="1140" class="t" />
<line x1="392" y1="1136.2" x2="611.5" y2="1136.2" class="t" />
<polygon points="392,1136.2 399,1134.9 399,1137.5" fill="#111"/>
<ellipse cx="397.6" cy="1136.2" rx="1.75" ry="1.43" fill="#111" transform="rotate(180 397.6 1136.2)"/>
<polygon points="611.5,1136.2 604.5,1137.5 604.5,1134.9" fill="#111"/>
<ellipse cx="605.9" cy="1136.2" rx="1.75" ry="1.43" fill="#111" transform="rotate(0 605.9 1136.2)"/>
<text x="500.6" y="1135.5" class="tb" text-anchor="middle" >J</text>
<line x1="378" y1="1036" x2="378" y2="1163" class="t" />
<line x1="652" y1="1068.3" x2="652" y2="1163" class="t" />
<line x1="378" y1="1160.6" x2="652" y2="1160.6" class="t" />
<polygon points="378,1160.6 385,1159.3 385,1161.9" fill="#111"/>
<ellipse cx="383.6" cy="1160.6" rx="1.75" ry="1.43" fill="#111" transform="rotate(180 383.6 1160.6)"/>
<polygon points="652,1160.6 645,1161.9 645,1159.3" fill="#111"/>
<ellipse cx="646.4" cy="1160.6" rx="1.75" ry="1.43" fill="#111" transform="rotate(0 646.4 1160.6)"/>
<text x="514" y="1158" class="tb" text-anchor="middle" >K</text>
<line x1="622.5" y1="1122" x2="622.5" y2="1140" class="t" />
<line x1="644.5" y1="1122" x2="644.5" y2="1140" class="t" />
<line x1="622.5" y1="1137" x2="644.5" y2="1137" class="t" />
<polygon points="622.5,1137 627.5,1135.8 627.5,1138.2" fill="#111"/>
<ellipse cx="626.5" cy="1137" rx="1.25" ry="1.32" fill="#111" transform="rotate(180 626.5 1137)"/>
<polygon points="644.5,1137 639.5,1138.2 639.5,1135.8" fill="#111"/>
<ellipse cx="640.5" cy="1137" rx="1.25" ry="1.32" fill="#111" transform="rotate(0 640.5 1137)"/>
<text x="633.5" y="1134.5" class="tb" text-anchor="middle" >G</text>
<line x1="652" y1="1137" x2="677.6" y2="1137" class="t" />
<polygon points="652,1137 658,1135.8 658,1138.2" fill="#111"/>
<ellipse cx="656.8" cy="1137" rx="1.5" ry="1.32" fill="#111" transform="rotate(180 656.8 1137)"/>
<text x="673" y="1134.5" class="tb" text-anchor="middle" >F</text>
<text x="708" y="1181" class="web" text-anchor="middle" >www.zgxjjypt.com</text>
<ellipse cx="19" cy="1010" rx="2" ry="1.3" fill="#999"/>
</svg></body></html>
